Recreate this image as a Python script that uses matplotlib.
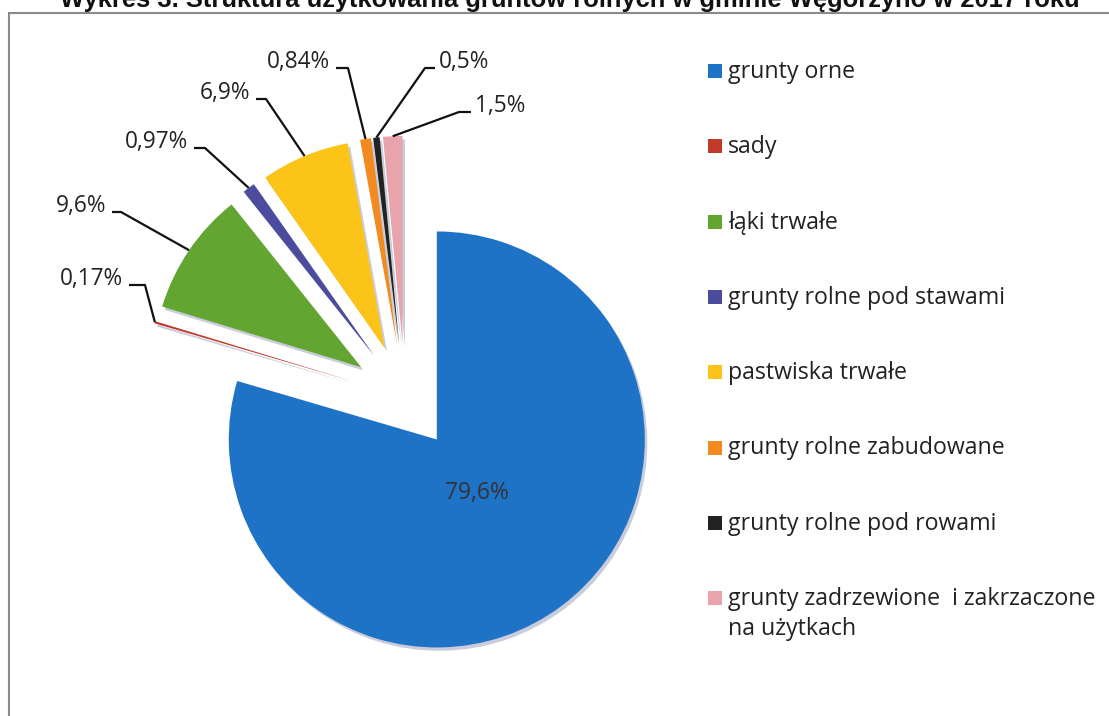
import numpy as np
import matplotlib
matplotlib.use("Agg")
import matplotlib.pyplot as plt
from matplotlib.patches import Rectangle

# data
categories = ["grunty orne", "sady", "łąki trwałe", "grunty rolne pod stawami",
              "pastwiska trwałe", "grunty rolne zabudowane", "grunty rolne pod rowami",
              "grunty zadrzewione  i zakrzaczone\nna użytkach"]
values = [79.6, 0.17, 9.6, 0.97, 6.9, 0.84, 0.5, 1.5]
colors = ["#1f73c6", "#c0392b", "#62a530", "#4b4c9e", "#fcc418", "#f28a1f", "#222222", "#e9a3ab"]
title = "Wykres 3. Struktura użytkowania gruntów rolnych w gminie Węgorzyno w 2017 roku"

pct_labels = [str(v).replace(".", ",") + "%" for v in values]

W, H = 1109, 716
fig = plt.figure(figsize=(W / 100, H / 100), dpi=100)
ax = fig.add_axes([0, 0, 1, 1])

# pixel -> data (pie centre at px (405,397), radius 208 px)
cx, cy, R = 405, 397, 208.0
def px(x, y):
    return (x - cx) / R, (cy - y) / R

explode = [0.255] * len(values)

# soft shadow
ax.pie(values, explode=explode, startangle=90, counterclock=False,
       colors=["#c9ccda"] * len(values), center=(0.012, -0.016),
       wedgeprops=dict(linewidth=0))
wedges, _ = ax.pie(values, explode=explode, startangle=90, counterclock=False,
                   colors=colors, wedgeprops=dict(linewidth=0))

ax.set_xlim(-cx / R, (W - cx) / R)
ax.set_ylim(-(H - cy) / R, cy / R)
ax.set_aspect("auto")
ax.axis("off")

fnt = "Open Sans"

# big label inside
w0 = wedges[0]
mid = np.radians((w0.theta1 + w0.theta2) / 2)
c0 = w0.center
ax.text(c0[0] + 0.32 * np.cos(mid), c0[1] + 0.32 * np.sin(mid), pct_labels[0],
        ha="center", va="center", fontsize=16.5, color="#333333", family=fnt)

# outside labels: (text x, baseline y, elbow x) in pixels, side
label_pos = {
    1: (123, 285, 145, "right"),
    2: (106, 212, 121, "right"),
    3: (188, 148, 205, "right"),
    4: (250, 99, 266, "right"),
    5: (330, 68, 348, "right"),
    6: (439, 68, 425, "left"),
    7: (475, 112, 459, "left"),
}
for i, (tx, ty, ex, side) in label_pos.items():
    w = wedges[i]
    m = np.radians((w.theta1 + w.theta2) / 2)
    ax_, ay_ = w.center[0] + 1.0 * np.cos(m), w.center[1] + 1.0 * np.sin(m)
    sx = tx + 6 if side == "right" else tx - 4
    p1 = px(sx, ty)
    p2 = px(ex, ty)
    ax.plot([p1[0], p2[0], ax_], [p1[1], p2[1], ay_], color="#111111", lw=1.6,
            solid_capstyle="butt")
    tpx = px(tx, ty)
    ax.text(tpx[0], tpx[1], pct_labels[i], ha=side, va="baseline",
            fontsize=16.3, color="#222222", family=fnt)

# legend, drawn by hand so the two-line entry keeps its square on the first line
row0, row_step, line_step = 78, 75.3, 30
for i, (lab, w) in enumerate(zip(categories, wedges)):
    yb = row0 + i * row_step
    fig.patches.append(Rectangle((708 / W, 1 - yb / H), 14 / W, 14 / H,
                                 transform=fig.transFigure,
                                 facecolor=w.get_facecolor(), edgecolor="none"))
    for k, line in enumerate(lab.split("\n")):
        fig.text(728 / W, 1 - (yb + k * line_step) / H, line, ha="left", va="baseline",
                 fontsize=16.7, family=fnt, color="#222222")

# frame (cut off at right and bottom)
fig.patches.append(Rectangle((9 / W, -0.1), 1.2, 1 - 13 / H + 0.1, transform=fig.transFigure,
                             fill=False, edgecolor="#8a8a8a", lw=1.5))

fig.text(0.514, 1 - 7 / H, title, ha="center", va="baseline", fontsize=18.4,
         fontweight="bold", family="Liberation Sans", color="#111111")

fig.savefig("out.png", dpi=100)
